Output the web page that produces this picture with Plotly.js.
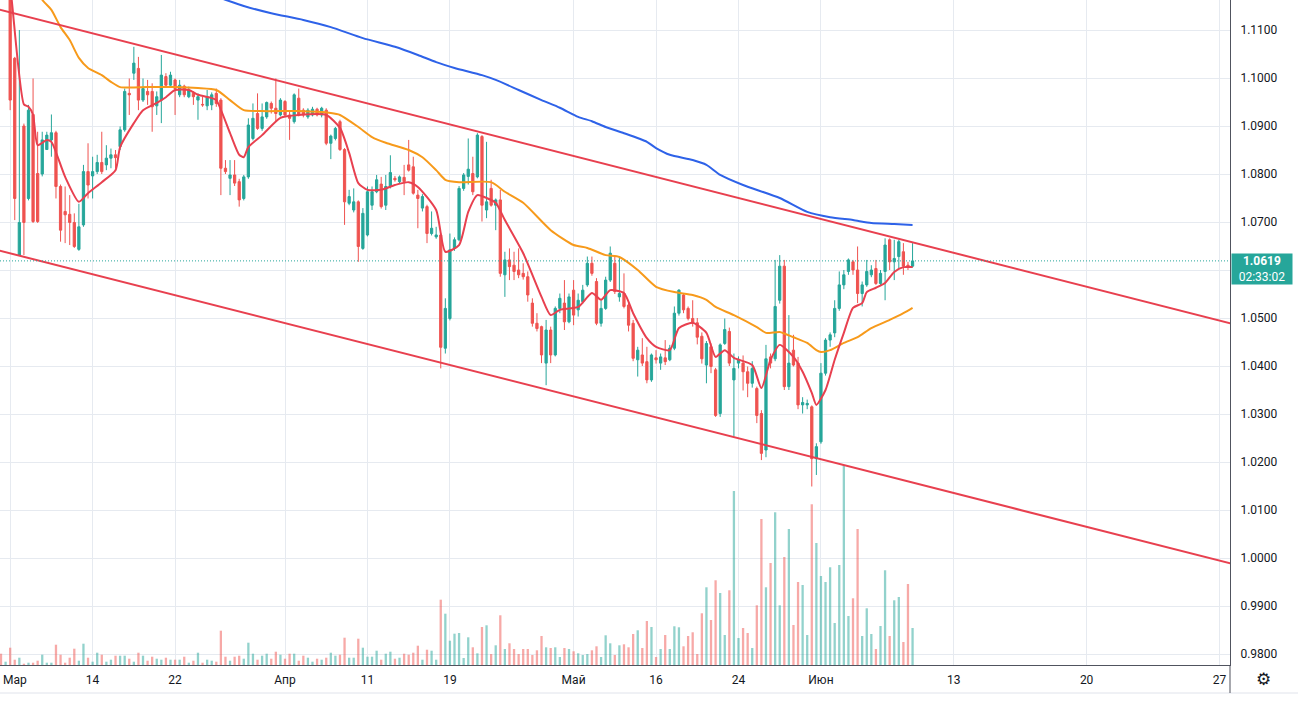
<!DOCTYPE html>
<html>
<head>
<meta charset="utf-8">
<script src="https://cdn.plot.ly/plotly-3.0.1.min.js"></script>
<style>
  html, body { margin: 0; padding: 0; background: #ffffff; }
  #chart { width: 1298px; height: 703px; }
</style>
</head>
<body>
<div id="chart"></div>
<script>
// --- Data: one candle per index (about 3 per trading day) ---
const opens = [
  1.1230, 1.1190, 1.1195, 1.1041, 1.0631, 1.0900, 1.0749, 1.0924, 1.0801, 1.0800,
  1.0851, 1.0871, 1.0886, 1.0774, 1.0722, 1.0716, 1.0699, 1.0643, 1.0694, 1.0805,
  1.0796, 1.0805, 1.0824, 1.0819, 1.0833, 1.0840, 1.0857, 1.0892, 1.0968, 1.1010,
  1.1020, 1.0954, 1.0972, 1.0972, 1.0942, 1.0954, 1.1003, 1.0985, 1.0996, 1.0965,
  1.0983, 1.0961, 1.0968, 1.0954, 1.0945, 1.0942, 1.0944, 1.0968, 1.0954, 1.0812,
  1.0791, 1.0798, 1.0784, 1.0749, 1.0794, 1.0874, 1.0926, 1.0895, 1.0919, 1.0947,
  1.0937, 1.0923, 1.0951, 1.0923, 1.0909, 1.0958, 1.0933, 1.0919, 1.0923, 1.0935,
  1.0923, 1.0933, 1.0864, 1.0874, 1.0909, 1.0851, 1.0739, 1.0725, 1.0742, 1.0645,
  1.0673, 1.0735, 1.0763, 1.0779, 1.0735, 1.0774, 1.0791, 1.0784, 1.0793, 1.0819,
  1.0815, 1.0756, 1.0729, 1.0732, 1.0676, 1.0669, 1.0673, 1.0437, 1.0499, 1.0645,
  1.0663, 1.0770, 1.0795, 1.0801, 1.0794, 1.0878, 1.0725, 1.0770, 1.0735, 1.0746,
  1.0590, 1.0621, 1.0610, 1.0600, 1.0593, 1.0586, 1.0531, 1.0489, 1.0482, 1.0406,
  1.0475, 1.0423, 1.0520, 1.0531, 1.0492, 1.0558, 1.0517, 1.0534, 1.0569, 1.0614,
  1.0576, 1.0489, 1.0520, 1.0579, 1.0614, 1.0544, 1.0551, 1.0527, 1.0489, 1.0413,
  1.0423, 1.0409, 1.0371, 1.0417, 1.0406, 1.0417, 1.0413, 1.0437, 1.0510, 1.0548,
  1.0520, 1.0499, 1.0490, 1.0462, 1.0402, 1.0440, 1.0392, 1.0301, 1.0447, 1.0472,
  1.0371, 1.0406, 1.0406, 1.0388, 1.0364, 1.0353, 1.0301, 1.0225, 1.0419, 1.0415,
  1.0537, 1.0608, 1.0357, 1.0433, 1.0406, 1.0319, 1.0319, 1.0315, 1.0207, 1.0242,
  1.0385, 1.0454, 1.0469, 1.0520, 1.0569, 1.0597, 1.0617, 1.0600, 1.0551, 1.0569,
  1.0590, 1.0603, 1.0572, 1.0597, 1.0663, 1.0617, 1.0628, 1.0638, 1.0610, 1.0608
];
const highs = [
  1.1245, 1.1215, 1.1205, 1.1044, 1.1100, 1.0905, 1.0944, 1.0999, 1.0888, 1.0888,
  1.0888, 1.0924, 1.0890, 1.0778, 1.0774, 1.0756, 1.0718, 1.0738, 1.0819, 1.0864,
  1.0836, 1.0840, 1.0888, 1.0860, 1.0853, 1.0850, 1.0899, 1.0978, 1.0999, 1.1065,
  1.1044, 1.0999, 1.0996, 1.0989, 1.0972, 1.1048, 1.1010, 1.1013, 1.0999, 1.0996,
  1.0986, 1.0982, 1.0972, 1.0968, 1.0961, 1.0975, 1.0970, 1.0978, 1.0958, 1.0829,
  1.0829, 1.0829, 1.0790, 1.0798, 1.0916, 1.0947, 1.0968, 1.0947, 1.0951, 1.0951,
  1.0999, 1.0958, 1.0954, 1.0933, 1.0968, 1.0978, 1.0937, 1.0937, 1.0940, 1.0938,
  1.0940, 1.0937, 1.0882, 1.0898, 1.0913, 1.0854, 1.0767, 1.0770, 1.0745, 1.0729,
  1.0774, 1.0774, 1.0798, 1.0794, 1.0798, 1.0839, 1.0796, 1.0797, 1.0819, 1.0871,
  1.0836, 1.0767, 1.0758, 1.0736, 1.0722, 1.0690, 1.0677, 1.0541, 1.0676, 1.0668,
  1.0775, 1.0802, 1.0874, 1.0836, 1.0885, 1.0881, 1.0867, 1.0788, 1.0749, 1.0767,
  1.0638, 1.0645, 1.0638, 1.0645, 1.0614, 1.0597, 1.0541, 1.0510, 1.0484, 1.0496,
  1.0482, 1.0524, 1.0551, 1.0579, 1.0551, 1.0579, 1.0551, 1.0569, 1.0628, 1.0628,
  1.0583, 1.0537, 1.0586, 1.0649, 1.0631, 1.0628, 1.0593, 1.0534, 1.0496, 1.0440,
  1.0458, 1.0440, 1.0426, 1.0433, 1.0426, 1.0454, 1.0444, 1.0524, 1.0560, 1.0550,
  1.0524, 1.0537, 1.0500, 1.0470, 1.0452, 1.0447, 1.0396, 1.0447, 1.0499, 1.0480,
  1.0426, 1.0420, 1.0422, 1.0399, 1.0410, 1.0357, 1.0308, 1.0444, 1.0426, 1.0621,
  1.0631, 1.0621, 1.0506, 1.0465, 1.0419, 1.0335, 1.0330, 1.0318, 1.0239, 1.0406,
  1.0458, 1.0470, 1.0537, 1.0597, 1.0600, 1.0624, 1.0621, 1.0649, 1.0576, 1.0621,
  1.0610, 1.0621, 1.0600, 1.0666, 1.0666, 1.0663, 1.0663, 1.0656, 1.0617, 1.0656
];
const lows = [
  1.1180, 1.1175, 1.0933, 1.0704, 1.0631, 1.0631, 1.0745, 1.0698, 1.0698, 1.0795,
  1.0850, 1.0836, 1.0749, 1.0659, 1.0656, 1.0652, 1.0646, 1.0640, 1.0690, 1.0749,
  1.0749, 1.0800, 1.0800, 1.0808, 1.0812, 1.0812, 1.0850, 1.0888, 1.0923, 1.0996,
  1.0933, 1.0950, 1.0944, 1.0888, 1.0923, 1.0906, 1.0980, 1.0980, 1.0923, 1.0960,
  1.0960, 1.0958, 1.0944, 1.0913, 1.0940, 1.0933, 1.0933, 1.0940, 1.0756, 1.0800,
  1.0756, 1.0775, 1.0732, 1.0745, 1.0790, 1.0870, 1.0892, 1.0890, 1.0915, 1.0926,
  1.0909, 1.0920, 1.0920, 1.0871, 1.0905, 1.0920, 1.0918, 1.0915, 1.0920, 1.0920,
  1.0918, 1.0860, 1.0831, 1.0870, 1.0848, 1.0694, 1.0735, 1.0720, 1.0617, 1.0642,
  1.0670, 1.0725, 1.0760, 1.0728, 1.0725, 1.0770, 1.0784, 1.0780, 1.0756, 1.0805,
  1.0757, 1.0687, 1.0722, 1.0656, 1.0672, 1.0665, 1.0395, 1.0426, 1.0495, 1.0640,
  1.0660, 1.0765, 1.0778, 1.0756, 1.0791, 1.0701, 1.0708, 1.0732, 1.0683, 1.0586,
  1.0544, 1.0579, 1.0579, 1.0583, 1.0580, 1.0534, 1.0482, 1.0472, 1.0406, 1.0360,
  1.0406, 1.0420, 1.0510, 1.0475, 1.0489, 1.0485, 1.0503, 1.0530, 1.0565, 1.0588,
  1.0485, 1.0482, 1.0517, 1.0575, 1.0550, 1.0534, 1.0520, 1.0472, 1.0410, 1.0378,
  1.0400, 1.0364, 1.0367, 1.0405, 1.0392, 1.0402, 1.0410, 1.0433, 1.0505, 1.0510,
  1.0495, 1.0482, 1.0445, 1.0405, 1.0364, 1.0385, 1.0294, 1.0294, 1.0444, 1.0400,
  1.0253, 1.0395, 1.0349, 1.0335, 1.0355, 1.0281, 1.0204, 1.0210, 1.0395, 1.0410,
  1.0530, 1.0350, 1.0350, 1.0399, 1.0310, 1.0301, 1.0310, 1.0149, 1.0173, 1.0238,
  1.0380, 1.0440, 1.0460, 1.0515, 1.0560, 1.0590, 1.0590, 1.0531, 1.0524, 1.0565,
  1.0585, 1.0569, 1.0569, 1.0537, 1.0600, 1.0579, 1.0603, 1.0590, 1.0600, 1.0605
];
const closes = [
  1.1190, 1.1200, 1.0954, 1.0749, 1.0699, 1.0699, 1.0933, 1.0701, 1.0701, 1.0871,
  1.0881, 1.0886, 1.0774, 1.0683, 1.0715, 1.0699, 1.0649, 1.0690, 1.0805, 1.0777,
  1.0805, 1.0824, 1.0805, 1.0833, 1.0840, 1.0834, 1.0892, 1.0972, 1.0965, 1.1031,
  1.0954, 1.0978, 1.0965, 1.0940, 1.0961, 1.1006, 1.0985, 1.1006, 1.0978, 1.0985,
  1.0965, 1.0975, 1.0961, 1.0961, 1.0944, 1.0961, 1.0965, 1.0947, 1.0812, 1.0805,
  1.0798, 1.0781, 1.0746, 1.0794, 1.0902, 1.0916, 1.0895, 1.0919, 1.0949, 1.0937,
  1.0926, 1.0954, 1.0923, 1.0916, 1.0965, 1.0923, 1.0923, 1.0933, 1.0935, 1.0923,
  1.0937, 1.0864, 1.0879, 1.0895, 1.0851, 1.0742, 1.0753, 1.0742, 1.0649, 1.0718,
  1.0763, 1.0763, 1.0788, 1.0732, 1.0774, 1.0803, 1.0788, 1.0794, 1.0784, 1.0808,
  1.0760, 1.0749, 1.0753, 1.0676, 1.0687, 1.0673, 1.0439, 1.0520, 1.0642, 1.0663,
  1.0770, 1.0798, 1.0810, 1.0763, 1.0881, 1.0735, 1.0742, 1.0735, 1.0746, 1.0593,
  1.0621, 1.0607, 1.0597, 1.0590, 1.0586, 1.0548, 1.0489, 1.0478, 1.0423, 1.0475,
  1.0423, 1.0520, 1.0541, 1.0492, 1.0544, 1.0506, 1.0537, 1.0558, 1.0614, 1.0593,
  1.0489, 1.0520, 1.0579, 1.0635, 1.0555, 1.0551, 1.0524, 1.0485, 1.0416, 1.0433,
  1.0406, 1.0371, 1.0423, 1.0413, 1.0419, 1.0409, 1.0437, 1.0510, 1.0558, 1.0517,
  1.0499, 1.0489, 1.0460, 1.0415, 1.0447, 1.0399, 1.0297, 1.0444, 1.0476, 1.0406,
  1.0395, 1.0413, 1.0388, 1.0364, 1.0395, 1.0297, 1.0218, 1.0415, 1.0406, 1.0524,
  1.0608, 1.0357, 1.0406, 1.0402, 1.0319, 1.0324, 1.0322, 1.0207, 1.0232, 1.0385,
  1.0454, 1.0465, 1.0520, 1.0569, 1.0590, 1.0621, 1.0600, 1.0551, 1.0569, 1.0597,
  1.0600, 1.0572, 1.0593, 1.0652, 1.0617, 1.0624, 1.0659, 1.0608, 1.0608, 1.0619
];
// volume, thousands
const volumes = [
  11.3, 3.3, 17.3, 5.3, 7.3, 1.3, 2.3, 2.3, 4.3, 10.3,
  2.3, 2.3, 20.3, 10.3, 2.3, 7.3, 16.3, 4.3, 21.3, 7.3,
  3.3, 12.3, 10.3, 3.3, 5.3, 9.3, 9.3, 9.3, 6.3, 3.3,
  12.3, 9.3, 4.3, 8.3, 6.3, 5.3, 7.3, 5.3, 5.3, 5.3,
  8.3, 2.3, 4.3, 12.3, 2.3, 5.3, 4.3, 3.3, 34.3, 8.3,
  4.3, 8.3, 9.3, 6.3, 22.3, 11.3, 5.3, 9.3, 11.3, 6.3,
  13.3, 10.3, 6.3, 11.3, 11.3, 4.3, 9.3, 7.3, 3.3, 6.3,
  5.3, 7.3, 12.3, 9.3, 10.3, 27.3, 7.3, 7.3, 26.3, 17.3,
  8.3, 8.3, 14.3, 5.3, 11.3, 13.3, 6.3, 7.3, 11.3, 10.3,
  12.3, 19.3, 5.3, 15.3, 14.3, 5.3, 65.3, 51.3, 24.3, 31.3,
  32.0, 7.0, 27.7, 17.7, 11.7, 38.0, 39.7, 11.0, 19.7, 49.7,
  16.0, 21.7, 16.0, 11.0, 16.0, 16.0, 10.0, 14.7, 29.0, 17.7,
  17.0, 17.7, 8.0, 17.0, 16.0, 13.7, 11.7, 10.0, 11.0, 14.7,
  18.7, 8.0, 29.7, 21.7, 10.0, 19.7, 20.7, 17.7, 31.0, 34.7,
  17.0, 44.0, 38.0, 8.0, 16.0, 30.0, 16.0, 38.7, 37.7, 18.7,
  29.0, 32.7, 11.0, 51.7, 77.7, 45.0, 84.7, 72.0, 30.0, 74.7,
  174.0, 27.0, 37.0, 32.0, 17.0, 59.7, 146.0, 77.7, 102.0, 152.7,
  59.7, 108.0, 136.0, 40.0, 83.0, 80.0, 30.0, 160.7, 122.0, 89.0,
  83.0, 97.7, 42.0, 100.0, 200.0, 49.0, 66.7, 136.0, 29.0, 56.7,
  31.0, 16.0, 39.0, 94.7, 29.0, 64.7, 68.0, 23.0, 81.0, 37.0
];

// moving averages, sampled at candle indices
const fastMaAt = [1, 2, 5, 6, 7, 8, 10, 11, 14, 17, 19, 22, 25, 26, 29, 31, 34, 36, 38, 41, 43, 46, 47, 50, 52, 53, 54, 57, 61, 65, 71, 74, 76, 78, 80, 83, 86, 89, 91, 95, 97, 100, 102, 104, 106, 108, 110, 114, 118, 120, 122, 126, 129, 131, 133, 136, 138, 141, 143, 146, 148, 151, 154, 156, 158, 160, 164, 166, 168, 170, 173, 175, 177, 178, 180, 182, 184, 186, 188, 189, 191, 193, 195, 197, 199];
const fastMa = [1.1230, 1.1190, 1.0945, 1.0940, 1.0923, 1.0860, 1.0871, 1.0867, 1.0794, 1.0742, 1.0760, 1.0783, 1.0808, 1.0856, 1.0906, 1.0933, 1.0948, 1.0960, 1.0975, 1.0975, 1.0965, 1.0958, 1.0954, 1.0885, 1.0840, 1.0835, 1.0856, 1.0881, 1.0917, 1.0923, 1.0923, 1.0896, 1.0844, 1.0781, 1.0767, 1.0767, 1.0777, 1.0783, 1.0773, 1.0725, 1.0638, 1.0652, 1.0721, 1.0756, 1.0750, 1.0740, 1.0704, 1.0635, 1.0544, 1.0506, 1.0517, 1.0523, 1.0552, 1.0538, 1.0558, 1.0552, 1.0510, 1.0458, 1.0440, 1.0433, 1.0479, 1.0490, 1.0469, 1.0419, 1.0433, 1.0417, 1.0402, 1.0354, 1.0413, 1.0444, 1.0419, 1.0388, 1.0344, 1.0319, 1.0350, 1.0413, 1.0469, 1.0521, 1.0531, 1.0554, 1.0563, 1.0573, 1.0596, 1.0606, 1.0606];

const midMaAt = [5, 9, 11, 13, 15, 17, 19, 22, 24, 26, 32, 38, 43, 47, 50, 53, 57, 65, 72, 74, 78, 81, 84, 89, 92, 95, 97, 100, 107, 110, 114, 120, 125, 128, 132, 135, 139, 143, 147, 151, 154, 156, 160, 165, 167, 170, 173, 176, 178, 179, 181, 184, 187, 190, 194, 197, 199];
const midMa = [1.1240, 1.1163, 1.1142, 1.1106, 1.1079, 1.1042, 1.1021, 1.1006, 1.0992, 1.0981, 1.0981, 1.0981, 1.0979, 1.0975, 1.0954, 1.0933, 1.0931, 1.0931, 1.0927, 1.0923, 1.0898, 1.0877, 1.0865, 1.0850, 1.0835, 1.0808, 1.0788, 1.0783, 1.0783, 1.0763, 1.0740, 1.0683, 1.0652, 1.0646, 1.0631, 1.0627, 1.0600, 1.0565, 1.0554, 1.0548, 1.0538, 1.0523, 1.0506, 1.0481, 1.0469, 1.0471, 1.0460, 1.0448, 1.0433, 1.0429, 1.0433, 1.0448, 1.0460, 1.0479, 1.0496, 1.0510, 1.0521];

const slowMaAt = [44, 49, 53, 59, 66, 72, 79, 86, 91, 95, 99, 105, 108, 113, 118, 122, 126, 129, 132, 136, 141, 143, 146, 151, 154, 157, 162, 170, 176, 181, 186, 190, 195, 199];
const slowMa = [1.1180, 1.1163, 1.1150, 1.1135, 1.1121, 1.1106, 1.1083, 1.1065, 1.1048, 1.1033, 1.1021, 1.1006, 1.0996, 1.0975, 1.0954, 1.0938, 1.0919, 1.0910, 1.0898, 1.0885, 1.0867, 1.0854, 1.0840, 1.0829, 1.0819, 1.0798, 1.0777, 1.0750, 1.0721, 1.0710, 1.0704, 1.0698, 1.0696, 1.0694];

// descending channel drawn by hand
const channelAt = [-1, 270];
const channelTop = [1.1144, 1.0485];
const channelBottom = [1.0642, 0.9985];

const lastPrice = 1.0619;
const lastTimer = '02:33:02';

const priceTicks = [0.98, 0.99, 1.00, 1.01, 1.02, 1.03, 1.04, 1.05, 1.06, 1.07, 1.08, 1.09, 1.10, 1.11];
const dateTickAt = [2, 20, 38, 62, 80, 98, 125, 143, 161, 179, 208, 237, 266];
const dateTickText = ['Мар', '14', '22', 'Апр', '11', '19', 'Май', '16', '24', 'Июн', '13', '20', '27'];

// --- Colors ---
const UP = '#26a69a';
const DOWN = '#ef5350';
const GRID = '#e6eaf0';
const TEXT = '#131722';
const FONT = 'Roboto, "Open Sans", sans-serif';

// --- Traces ---
const idx = closes.map(function (c, i) { return i; });

const volumeTrace = {
  type: 'bar',
  x: idx,
  y: volumes,
  width: 0.5,
  yaxis: 'y',
  marker: {
    color: idx.map(function (i) {
      return closes[i] >= opens[i] ? 'rgba(38,166,154,0.5)' : 'rgba(239,83,80,0.5)';
    }),
    line: { width: 0 }
  },
  hoverinfo: 'skip'
};

const candleTrace = {
  type: 'candlestick',
  x: idx,
  open: opens, high: highs, low: lows, close: closes,
  yaxis: 'y2',
  whiskerwidth: 0,
  increasing: { line: { color: UP, width: 1 }, fillcolor: UP },
  decreasing: { line: { color: DOWN, width: 1 }, fillcolor: DOWN },
  hoverinfo: 'skip'
};

function maLine(xs, ys, color) {
  return {
    type: 'scatter', mode: 'lines', x: xs, y: ys, yaxis: 'y2',
    line: { color: color, width: 2, shape: 'spline', smoothing: 0.6 },
    hoverinfo: 'skip'
  };
}

function channelLine(ys) {
  return {
    type: 'scatter', mode: 'lines', x: channelAt, y: ys, yaxis: 'y2',
    line: { color: '#e8404f', width: 2 },
    hoverinfo: 'skip'
  };
}

const traces = [
  volumeTrace,
  candleTrace,
  maLine(slowMaAt, slowMa, '#2e62e8'),
  maLine(midMaAt, midMa, '#f79a1b'),
  maLine(fastMaAt, fastMa, '#e8404f'),
  channelLine(channelTop),
  channelLine(channelBottom)
];

// --- Layout ---
const PLOT_W = 1230, PLOT_H = 665;
const volMax = Math.max.apply(null, volumes);

// the first date label sits on the left edge, so it is drawn as a left-anchored note
const axisText = dateTickText.map(function (t, i) { return i === 0 ? '' : t; });

const layout = {
  width: 1298, height: 703,
  margin: { l: 0, r: 1298 - PLOT_W, t: 0, b: 703 - PLOT_H },
  paper_bgcolor: '#ffffff',
  plot_bgcolor: '#ffffff',
  showlegend: false,
  hovermode: false,
  font: { family: FONT, size: 12, color: TEXT },
  xaxis: {
    range: [-0.22, 268.3],
    tickmode: 'array', tickvals: dateTickAt, ticktext: axisText,
    showgrid: true, gridcolor: GRID, gridwidth: 1,
    zeroline: false,
    showline: true, linecolor: '#50535e', linewidth: 1,
    ticks: '', ticklabelstandoff: 4,
    tickfont: { family: FONT, size: 12, color: TEXT },
    rangeslider: { visible: false },
    fixedrange: true
  },
  yaxis: {
    range: [0, volMax / 0.3008],
    visible: false, showgrid: false, zeroline: false, fixedrange: true
  },
  yaxis2: {
    overlaying: 'y', side: 'right',
    range: [0.97771, 1.11625],
    tickmode: 'array', tickvals: priceTicks,
    ticktext: priceTicks.map(function (v) { return v === 1.06 ? '' : v.toFixed(4); }),
    showgrid: true, gridcolor: GRID, gridwidth: 1,
    zeroline: false,
    showline: true, linecolor: '#50535e', linewidth: 1,
    ticks: '', ticklabelstandoff: 7,
    tickfont: { family: FONT, size: 12, color: TEXT },
    fixedrange: true
  },
  shapes: [
    { type: 'line', xref: 'paper', yref: 'y2', x0: 0, x1: 1, y0: lastPrice, y1: lastPrice,
      line: { color: UP, width: 1, dash: '1px,2px' } },
    { type: 'line', xref: 'paper', yref: 'paper', x0: 0, x1: 1298 / PLOT_W,
      y0: -28 / PLOT_H, y1: -28 / PLOT_H, line: { color: '#e0e3eb', width: 1 } },
    { type: 'line', xref: 'paper', yref: 'paper', x0: 1, x1: 1,
      y0: -28 / PLOT_H, y1: 0, line: { color: '#50535e', width: 1 } }
  ],
  annotations: [
    { xref: 'paper', yref: 'paper', x: 0, y: -15 / PLOT_H, xanchor: 'left', yanchor: 'middle',
      xshift: 1, text: dateTickText[0], showarrow: false,
      font: { family: FONT, size: 12, color: TEXT } },
    { xref: 'paper', yref: 'y2', x: 1, y: lastPrice, xanchor: 'left', yanchor: 'top',
      yshift: 8, xshift: 1,
      text: '<b>' + lastPrice.toFixed(4) + '</b><br>' + lastTimer,
      showarrow: false, align: 'center', width: 60, height: 30, borderpad: 0,
      bgcolor: UP, font: { family: FONT, size: 12, color: '#ffffff' } },
    { xref: 'paper', yref: 'paper', x: 1263 / PLOT_W, y: -14 / PLOT_H,
      xanchor: 'center', yanchor: 'middle', text: '⚙', showarrow: false,
      font: { family: 'DejaVu Sans', size: 17, color: TEXT } }
  ]
};

Plotly.newPlot('chart', traces, layout, { displayModeBar: false, staticPlot: true });
</script>
</body>
</html>
